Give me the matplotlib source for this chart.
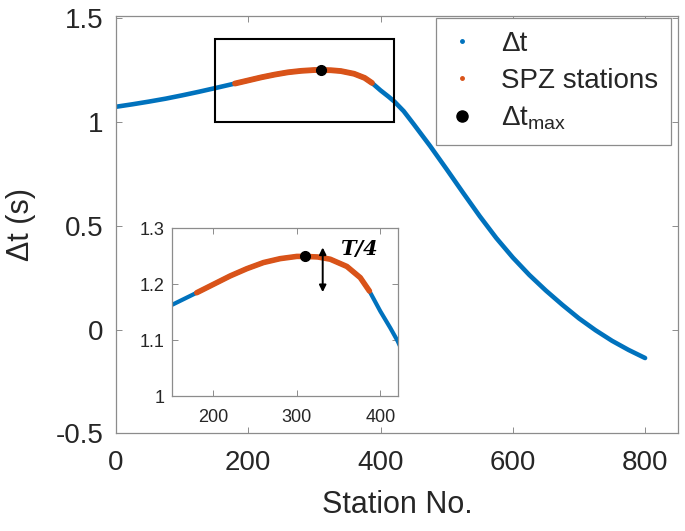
import numpy as np
import matplotlib
matplotlib.use('Agg')
import matplotlib.pyplot as plt
from matplotlib.lines import Line2D
from matplotlib.patches import Rectangle

plt.rcParams['font.family'] = ['Liberation Sans', 'DejaVu Sans']
plt.rcParams['mathtext.fontset'] = 'custom'
plt.rcParams['mathtext.rm'] = 'Liberation Sans'
plt.rcParams['mathtext.it'] = 'Liberation Sans:italic'

# --- valores ---
estacoes = [0, 25, 50, 75, 100, 125, 150, 165, 180, 200, 220, 240, 260, 280, 300,
            310, 325, 340, 360, 376, 387, 400, 412, 421, 435, 450, 475, 500, 525,
            550, 575, 600, 625, 650, 675, 700, 725, 750, 775, 800]
delta_t = [1.073, 1.085, 1.098, 1.112, 1.128, 1.145, 1.163, 1.174, 1.185, 1.200,
           1.215, 1.228, 1.239, 1.246, 1.250, 1.250, 1.249, 1.245, 1.232, 1.212,
           1.188, 1.152, 1.122, 1.098, 1.052, 0.990, 0.884, 0.772, 0.658, 0.546,
           0.441, 0.347, 0.263, 0.188, 0.119, 0.054, -0.003, -0.054, -0.098, -0.137]
spz_ini, spz_fim = 180, 387
est_max, dt_max = 310, 1.25

x_ticks = [0, 200, 400, 600, 800]
y_ticks = [-0.5, 0, 0.5, 1, 1.5]
y_tick_labels = ['-0.5', '0', '0.5', '1', '1.5']
x_ticks_in = [200, 300, 400]
y_ticks_in = [1, 1.1, 1.2, 1.3]
y_tick_labels_in = ['1', '1.1', '1.2', '1.3']

azul = '#0072BD'
laranja = '#D95319'
cinza = '#262626'

est = np.array(estacoes)
dt = np.array(delta_t)
spz = (est >= spz_ini) & (est <= spz_fim)


def estilo(ax, fs, padx, pady):
    for s in ax.spines.values():
        s.set_color('#8c8c8c')
        s.set_linewidth(0.9)
    ax.tick_params(direction='in', top=True, right=True, length=4, width=0.7,
                   color='#8c8c8c', labelcolor=cinza, labelsize=fs)
    ax.tick_params(axis='x', pad=padx)
    ax.tick_params(axis='y', pad=pady)


fig = plt.figure(figsize=(6.85, 5.31), dpi=100)
ax = fig.add_axes([0.1693, 0.1838, 0.8207, 0.786])

ax.plot(est, dt, color=azul, lw=3.3, solid_capstyle='round', zorder=2)
ax.plot(est[spz], dt[spz], color=laranja, lw=4.2, solid_capstyle='round', zorder=3)
ax.plot(est_max, dt_max, 'o', color='k', ms=7, zorder=4)
ax.add_patch(Rectangle((150, 1.0), 270, 0.4, fill=False, edgecolor='k', lw=1.5, zorder=5))

ax.set_xlim(0, 850)
ax.set_ylim(-0.5, 1.51)
ax.set_xticks(x_ticks)
ax.set_yticks(y_ticks)
ax.set_yticklabels(y_tick_labels)
estilo(ax, 20, 12, 9)
ax.set_xlabel('Station No.', fontsize=22, color=cinza, labelpad=10)
ax.set_ylabel('Δt (s)', fontsize=22, color=cinza, labelpad=14)

handles = [
    Line2D([], [], ls='none', marker='.', ms=5, color=azul),
    Line2D([], [], ls='none', marker='.', ms=5, color=laranja),
    Line2D([], [], ls='none', marker='o', ms=8, color='k'),
]
leg = ax.legend(handles, ['Δt', 'SPZ stations', r'Δt$_{\mathregular{max}}$'],
                loc='upper right', bbox_to_anchor=(0.987, 0.995), borderaxespad=0,
                fontsize=20, fancybox=False, framealpha=1, edgecolor='#8c8c8c',
                handlelength=1.0, handletextpad=0.9, labelspacing=0.4,
                borderpad=0.45)
leg.get_frame().set_linewidth(0.9)
for t in leg.get_texts():
    t.set_color(cinza)

# --- inset ---
ax_in = fig.add_axes([0.2507, 0.2542, 0.330, 0.3155])
ax_in.plot(est, dt, color=azul, lw=3.0, solid_capstyle='round', zorder=2)
ax_in.plot(est[spz], dt[spz], color=laranja, lw=4.0, solid_capstyle='round', zorder=3)
ax_in.plot(est_max, dt_max, 'o', color='k', ms=7, zorder=4)
ax_in.annotate('', xy=(331, 1.186), xytext=(331, 1.266),
               arrowprops=dict(arrowstyle='<|-|>', color='k', lw=1.4,
                               mutation_scale=10, shrinkA=0, shrinkB=0), zorder=5)
ax_in.text(352, 1.263, 'T/4', family='DejaVu Serif', style='italic',
           weight='bold', fontsize=15, va='center', ha='left')
ax_in.set_xlim(150, 421)
ax_in.set_ylim(1, 1.3)
ax_in.set_xticks(x_ticks_in)
ax_in.set_yticks(y_ticks_in)
ax_in.set_yticklabels(y_tick_labels_in)
estilo(ax_in, 13, 9, 5)

fig.savefig('out.png', dpi=100)
